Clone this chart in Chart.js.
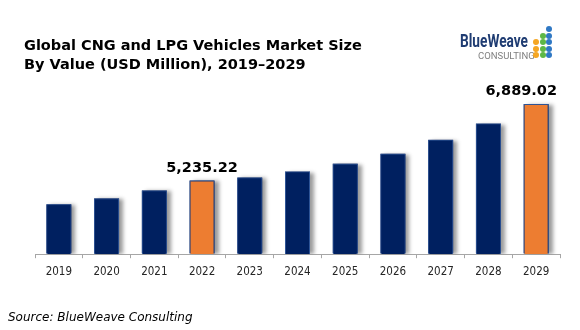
<!DOCTYPE html>
<html>
<head>
<meta charset="utf-8">
<script src="https://cdn.jsdelivr.net/npm/chart.js@4.4.0/dist/chart.umd.min.js"></script>
<style>
  html, body { margin: 0; padding: 0; background: #fff; }
  #wrap { position: relative; width: 580px; height: 330px; overflow: hidden; }
  #chart { position: absolute; left: 0; top: 0; }
  .title {
    position: absolute; left: 24px; top: 36px;
    font: bold 14.5px "DejaVu Sans", Verdana, sans-serif;
    line-height: 19px; color: #000;
  }
  .source {
    position: absolute; left: 8px; top: 309px;
    font: italic 12px "DejaVu Sans", Verdana, sans-serif;
    line-height: 16px; color: #000;
  }
  .logo-name {
    position: absolute; left: 460px; top: 30px;
    font: bold 18px Roboto, sans-serif; color: #1f3c72;
    transform: scaleX(0.76); transform-origin: left top; white-space: nowrap;
  }
  .logo-sub {
    position: absolute; left: 478px; top: 50px;
    font: 9.5px Roboto, sans-serif; color: #7f7f7f; white-space: nowrap;
  }
  .dot { position: absolute; width: 6px; height: 6px; border-radius: 50%; }
</style>
</head>
<body>
<div id="wrap">
  <canvas id="chart" width="580" height="330"></canvas>
  <div class="title">Global CNG and LPG Vehicles Market Size<br>By Value (USD Million), 2019–2029</div>
  <div class="source">Source: BlueWeave Consulting</div>
  <div class="logo-name">BlueWeave</div>
  <div class="logo-sub">CONSULTING</div>
  <div id="dots"></div>
</div>
<script>
// Chart data
var years = ['2019', '2020', '2021', '2022', '2023', '2024', '2025', '2026', '2027', '2028', '2029'];
var marketSize = [4720, 4848, 5020, 5235.22, 5300, 5428, 5600, 5815, 6116, 6466, 6889.02];
var labelledYears = ['2022', '2029'];
var axisMin = 3640;
var axisMax = 7410;

var navy = '#002060';
var orange = '#ed7d31';

// logo dots: [column, row, colour]
var logoDots = [
    [2, 0, '#2f78c4'],
    [1, 1, '#5db746'], [2, 1, '#2f78c4'],
    [0, 2, '#f5a623'], [1, 2, '#5db746'], [2, 2, '#2f78c4'],
    [0, 3, '#f5a623'], [1, 3, '#5db746'], [2, 3, '#2f78c4'],
    [0, 4, '#f5a623'], [1, 4, '#5db746'], [2, 4, '#2f78c4']
];
var dotsBox = document.getElementById('dots');
logoDots.forEach(function(d) {
    var el = document.createElement('div');
    el.className = 'dot';
    el.style.left = (533 + d[0] * 6.6) + 'px';
    el.style.top = (26 + d[1] * 6.6) + 'px';
    el.style.background = d[2];
    dotsBox.appendChild(el);
});

var barColors = years.map(function(y) {
    return labelledYears.indexOf(y) >= 0 ? orange : navy;
});

/**
 * Soft grey shadow to the right of each bar
 */
var barShadow = {
    id: 'barShadow',
    beforeDatasetsDraw: function(chart) {
        var ctx = chart.ctx;
        var area = chart.chartArea;
        ctx.save();
        ctx.beginPath();
        ctx.rect(area.left, area.top - 20, area.right - area.left + 10, area.bottom - area.top + 20);
        ctx.clip();
        chart.getDatasetMeta(0).data.forEach(function(bar) {
            var p = bar.getProps(['x', 'y', 'base', 'width'], true);
            ctx.save();
            ctx.shadowColor = 'rgba(0, 0, 0, 0.4)';
            ctx.shadowBlur = 4;
            ctx.shadowOffsetX = 4;
            ctx.shadowOffsetY = 1;
            ctx.fillStyle = navy;
            ctx.fillRect(p.x - p.width / 2, p.y, p.width, p.base - p.y - 1);
            ctx.restore();
        });
        ctx.restore();
    }
};

/**
 * Value labels above highlighted bars (kept inside the plot on the right)
 */
var valueLabels = {
    id: 'valueLabels',
    afterDatasetsDraw: function(chart) {
        var ctx = chart.ctx;
        var meta = chart.getDatasetMeta(0);
        var right = chart.chartArea.right - 3;
        ctx.save();
        ctx.font = 'bold 14.5px "DejaVu Sans", Verdana, sans-serif';
        ctx.fillStyle = '#000';
        ctx.textAlign = 'center';
        ctx.textBaseline = 'middle';
        years.forEach(function(y, i) {
            if (labelledYears.indexOf(y) < 0) return;
            var bar = meta.data[i];
            var txt = marketSize[i].toLocaleString('en-US', { minimumFractionDigits: 2, maximumFractionDigits: 2 });
            var w = ctx.measureText(txt).width;
            var x = Math.min(bar.x, right - w / 2);
            ctx.fillText(txt, x, bar.y - 12.5);
        });
        ctx.restore();
    }
};

var ctx = document.getElementById('chart').getContext('2d');
var chart = new Chart(ctx, {
    type: 'bar',
    data: {
        labels: years,
        datasets: [{
            data: marketSize,
            base: axisMin,
            backgroundColor: barColors,
            borderColor: '#2f5597',
            borderWidth: 1,
            barPercentage: 0.655,
            categoryPercentage: 0.8
        }]
    },
    options: {
        responsive: false,
        animation: false,
        layout: {
            padding: { left: 35, right: 20, top: 80, bottom: 45 }
        },
        plugins: {
            legend: { display: false },
            tooltip: { enabled: false }
        },
        scales: {
            x: {
                grid: {
                    display: true,
                    drawOnChartArea: false,
                    drawTicks: true,
                    tickLength: 4,
                    color: '#a6a6a6'
                },
                border: { display: true, color: '#a6a6a6' },
                ticks: {
                    padding: 6.5,
                    color: '#262626',
                    font: { family: '"DejaVu Sans Condensed", "Liberation Sans", sans-serif', size: 11.5 }
                }
            },
            y: {
                display: false,
                min: axisMin,
                max: axisMax
            }
        }
    },
    plugins: [barShadow, valueLabels]
});
</script>
</body>
</html>
